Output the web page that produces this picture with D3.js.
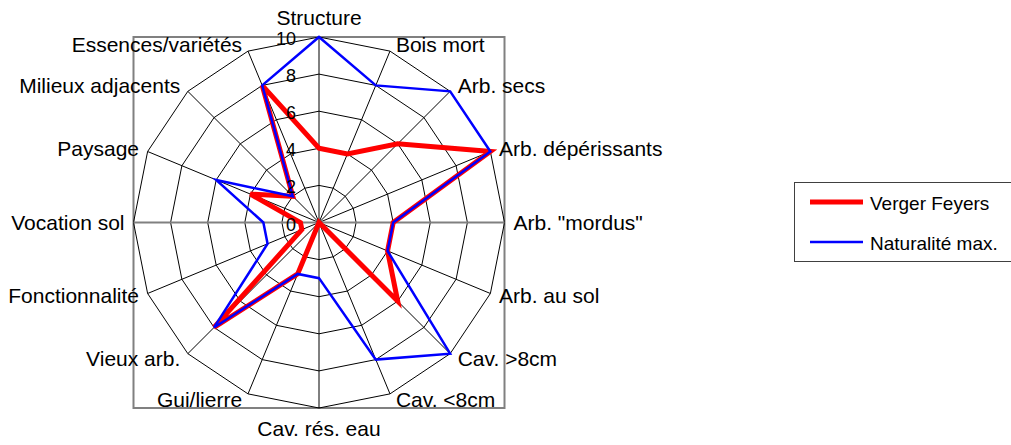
<!DOCTYPE html>
<html><head><meta charset="utf-8">
<script src="https://cdn.jsdelivr.net/npm/d3@7"></script>
<style>html,body{margin:0;padding:0;background:#fff;}svg{display:block;font-family:"Liberation Sans",Arial,sans-serif;}</style>
</head><body>
<svg id="chart" width="1011" height="445"></svg>
<script>
const categories = ["Structure","Bois mort","Arb. secs","Arb. dépérissants","Arb. \"mordus\"","Arb. au sol","Cav. >8cm","Cav. <8cm","Cav. rés. eau","Gui/lierre","Vieux arb.","Fonctionnalité","Vocation sol","Paysage","Milieux adjacents","Essences/variétés"];
const vergerFeyers = [4,4,6,10,4,4,6,0,0,3,8,1,1,4,2,8];
const naturaliteMax = [10,8,10,10,4,4,10,8,3,3,8,3,3,6,2,8];
const tickValues = [0,2,4,6,8,10];
const seriesNames = ["Verger Feyers","Naturalité max."];

const svg = d3.select("#chart");
const cx = 319, cy = 222.5, R = 185.5;
const r = d3.scaleLinear().domain([0,10]).range([0,R]);
const n = categories.length;
const ang = d3.scaleLinear().domain([0,n]).range([0,2*Math.PI]);
const px = (i,v) => cx + r(v)*Math.sin(ang(i));
const py = (i,v) => cy - r(v)*Math.cos(ang(i));

// plot area box
svg.append("rect").attr("x",cx-R).attr("y",cy-R).attr("width",2*R).attr("height",2*R)
  .attr("fill","none").attr("stroke","#808080").attr("stroke-width",2);

// grid rings
const ringLine = d3.line().x(d=>d[0]).y(d=>d[1]).curve(d3.curveLinearClosed);
tickValues.filter(t=>t>0).forEach(t=>{
  svg.append("path").attr("d",ringLine(d3.range(n).map(i=>[px(i,t),py(i,t)])))
    .attr("fill","none").attr("stroke","#000").attr("stroke-width",1);
});
// spokes
d3.range(n).forEach(i=>{
  svg.append("line").attr("x1",cx).attr("y1",cy).attr("x2",px(i,10)).attr("y2",py(i,10))
    .attr("stroke","#000").attr("stroke-width",1);
});
// horizontal gray axis
svg.append("line").attr("x1",cx-R).attr("x2",cx+R).attr("y1",cy).attr("y2",cy)
  .attr("stroke","#808080").attr("stroke-width",2);

// series
const series = [
  {name:seriesNames[0], values:vergerFeyers, color:"#ff0000", w:5},
  {name:seriesNames[1], values:naturaliteMax, color:"#0000ff", w:2.5}
];
series.forEach(s=>{
  svg.append("path").attr("d",ringLine(s.values.map((v,i)=>[px(i,v),py(i,v)])))
    .attr("fill","none").attr("stroke",s.color).attr("stroke-width",s.w).attr("stroke-linejoin","miter");
});

// tick labels
tickValues.forEach(t=>{
  svg.append("text").attr("x",cx-23).attr("y",cy-r(t)+8).attr("text-anchor","end")
    .attr("font-size",18).attr("fill","#000").text(t);
});

// category labels
categories.forEach((c,i)=>{
  const a = ang(i), s = Math.sin(a), co = Math.cos(a);
  let x = px(i,10), y = py(i,10) + 7 - 7*co, anchor;
  if (s > 0.01) { anchor = "start"; x += 4 + 5*Math.abs(s); }
  else if (s < -0.01) { anchor = "end"; x -= 4 + 5*Math.abs(s); }
  else { anchor = "middle"; y += (co > 0 ? -12 : 14); }
  svg.append("text").attr("x",x).attr("y",y).attr("text-anchor",anchor)
    .attr("font-size",21).attr("fill","#000").text(c);
});

// legend
const lg = svg.append("g");
lg.append("rect").attr("x",794.5).attr("y",182.5).attr("width",230).attr("height",79)
  .attr("fill","#fff").attr("stroke","#404040").attr("stroke-width",1);
series.forEach((s,k)=>{
  const y = 202 + k*40;
  lg.append("line").attr("x1",810).attr("x2",863).attr("y1",y).attr("y2",y)
    .attr("stroke",s.color).attr("stroke-width",s.w);
  lg.append("text").attr("x",870).attr("y",y+7.5).attr("font-size",19).attr("fill","#000").text(s.name);
});
</script>
</body></html>
